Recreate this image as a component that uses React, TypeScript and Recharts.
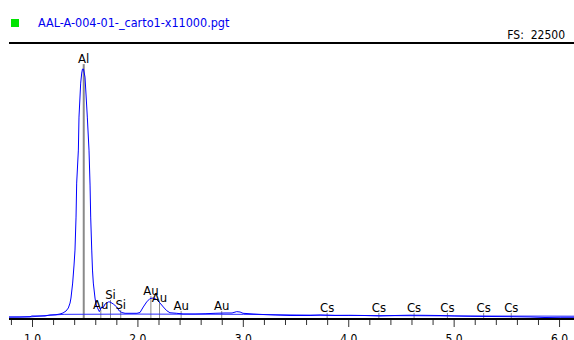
import { LineChart, Line, XAxis, YAxis, ReferenceLine, ReferenceDot } from 'recharts'

// spectrum (keV, counts)
const energies = [
  0.777, 0.881, 0.976, 0.995, 1.119, 1.166, 1.223, 1.261, 1.289, 1.318,
  1.34, 1.356, 1.365, 1.381, 1.394, 1.403, 1.413, 1.419, 1.435, 1.441,
  1.457, 1.467, 1.474, 1.484, 1.498, 1.508, 1.52, 1.536, 1.546, 1.552,
  1.562, 1.569, 1.577, 1.593, 1.602, 1.617, 1.634, 1.657, 1.669, 1.688,
  1.719, 1.735, 1.767, 1.799, 1.824, 1.846, 1.878, 1.991, 2.02, 2.051,
  2.083, 2.115, 2.146, 2.178, 2.21, 2.241, 2.273, 2.304, 2.368, 2.428,
  2.542, 2.637, 2.732, 2.826, 2.893, 2.937, 2.969, 2.997, 3.092, 3.177,
  3.301, 3.443, 3.633, 3.728, 3.87, 4.012, 4.154, 4.296, 4.439, 4.581,
  4.724, 4.866, 5.008, 5.151, 5.34, 5.53, 5.72, 5.862, 6.005, 6.137,
]
const counts = [
  165, 165, 190, 245, 245, 325, 350, 410, 490, 650,
  900, 1300, 1710, 2930, 4400, 5620, 8310, 11080, 13770, 16460,
  19230, 20050, 20375, 20375, 19720, 18260, 16460, 13770, 10920, 8310,
  5620, 3990, 2930, 1710, 1220, 900, 600, 980, 900, 1220,
  1390, 1390, 1220, 980, 650, 530, 465, 465, 530, 980,
  1390, 1670, 1710, 1590, 1300, 980, 680, 510, 465, 410,
  410, 430, 465, 490, 490, 600, 570, 465, 410, 370,
  325, 285, 285, 325, 285, 300, 285, 245, 285, 310,
  300, 285, 245, 220, 205, 190, 165, 120, 140, 140,
]

// background fit
const bgEnergies = [0.777, 0.98, 1.15, 1.3, 2.0, 3.0, 3.5, 4.0, 5.0, 6.137]
const bgCounts = [150, 170, 300, 380, 400, 380, 330, 290, 250, 230]

// element markers
const lineLabels = ['Al', 'Au', 'Si', 'Si', 'Au', 'Au', 'Au', 'Au', 'Cs', 'Cs', 'Cs', 'Cs', 'Cs', 'Cs']
const lineEnergies = [1.486, 1.648, 1.74, 1.837, 2.123, 2.205, 2.41, 2.795, 3.795, 4.286, 4.62, 4.936, 5.28, 5.542]
const lineHeights = [20780, 730, 1550, 730, 1870, 1300, 650, 650, 490, 490, 490, 490, 490, 490]

const tickValues = [
  0.8, 1.0, 1.2, 1.4, 1.6, 1.8, 2.0, 2.2, 2.4, 2.6, 2.8, 3.0, 3.2, 3.4, 3.6, 3.8,
  4.0, 4.2, 4.4, 4.6, 4.8, 5.0, 5.2, 5.4, 5.6, 5.8, 6.0,
]
const fullScale = 22500

const narrow = "'Liberation Sans Narrow', 'DejaVu Sans Condensed', 'Liberation Sans', Arial, sans-serif"

const spectrum = energies.map((e, i) => ({ e, c: counts[i] }))
const background = bgEnergies.map((e, i) => ({ e, c: bgCounts[i] }))

function EnergyTick(props: any) {
  const { x, y, payload } = props
  const v = payload.value
  const major = Math.abs(v - Math.round(v)) < 0.001
  return (
    <g>
      <line x1={x} x2={x} y1={y + 1} y2={y + (major ? 8 : 6)} stroke="#333" />
      {major && (
        <text x={x} y={y + 24} textAnchor="middle" fontSize={12} fontFamily={narrow} fill="#000">
          {v.toFixed(1)}
        </text>
      )}
    </g>
  )
}

export default function App() {
  return (
    <div
      style={{
        position: 'absolute',
        left: 0,
        top: 0,
        width: 574,
        height: 340,
        background: '#fff',
        overflow: 'hidden',
        fontFamily: narrow,
      }}
    >
      <div style={{ position: 'absolute', left: 11, top: 19, width: 8, height: 8, background: '#00e400' }} />
      <div style={{ position: 'absolute', left: 38, top: 15, fontSize: 12.5, color: '#0000f0', lineHeight: '16px' }}>
        AAL-A-004-01-_carto1-x11000.pgt
      </div>
      <div
        style={{
          position: 'absolute',
          right: 9,
          top: 28,
          fontSize: 12,
          color: '#000',
          lineHeight: '14px',
          whiteSpace: 'pre',
        }}
      >
        FS:  {fullScale}
      </div>
      <LineChart width={574} height={340} margin={{ top: 43, right: 0, left: 9, bottom: 0 }}>
        <XAxis
          type="number"
          dataKey="e"
          domain={[0.777, 6.137]}
          ticks={tickValues}
          interval={0}
          allowDataOverflow
          tick={(p: any) => <EnergyTick {...p} />}
          tickLine={false}
          tickSize={0}
          tickMargin={0}
          axisLine={{ stroke: '#000', strokeWidth: 2 }}
          height={21}
        />
        <YAxis hide type="number" domain={[0, fullScale]} allowDataOverflow />
        <ReferenceLine y={fullScale} stroke="#000" strokeWidth={2} />
        {lineEnergies.map((e, i) => (
          <ReferenceLine
            key={`m-${i}`}
            segment={[{ x: e, y: 0 }, { x: e, y: lineHeights[i] }]}
            stroke="#8a8a8a"
            strokeWidth={i === 0 ? 2 : 1}
          />
        ))}
        <Line
          data={background}
          dataKey="c"
          type="linear"
          stroke="#2a2aff"
          strokeWidth={1}
          dot={false}
          isAnimationActive={false}
        />
        <Line
          data={spectrum}
          dataKey="c"
          type="linear"
          stroke="#0000ff"
          strokeWidth={1}
          dot={false}
          isAnimationActive={false}
        />
        {lineEnergies.map((e, i) => (
          <ReferenceDot
            key={`l-${i}`}
            x={e}
            y={lineHeights[i]}
            r={0}
            stroke="none"
            fill="none"
            label={{
              value: lineLabels[i],
              position: 'top',
              offset: 1,
              fontSize: 13,
              fontFamily: narrow,
              fill: '#000',
            }}
          />
        ))}
      </LineChart>
    </div>
  )
}
